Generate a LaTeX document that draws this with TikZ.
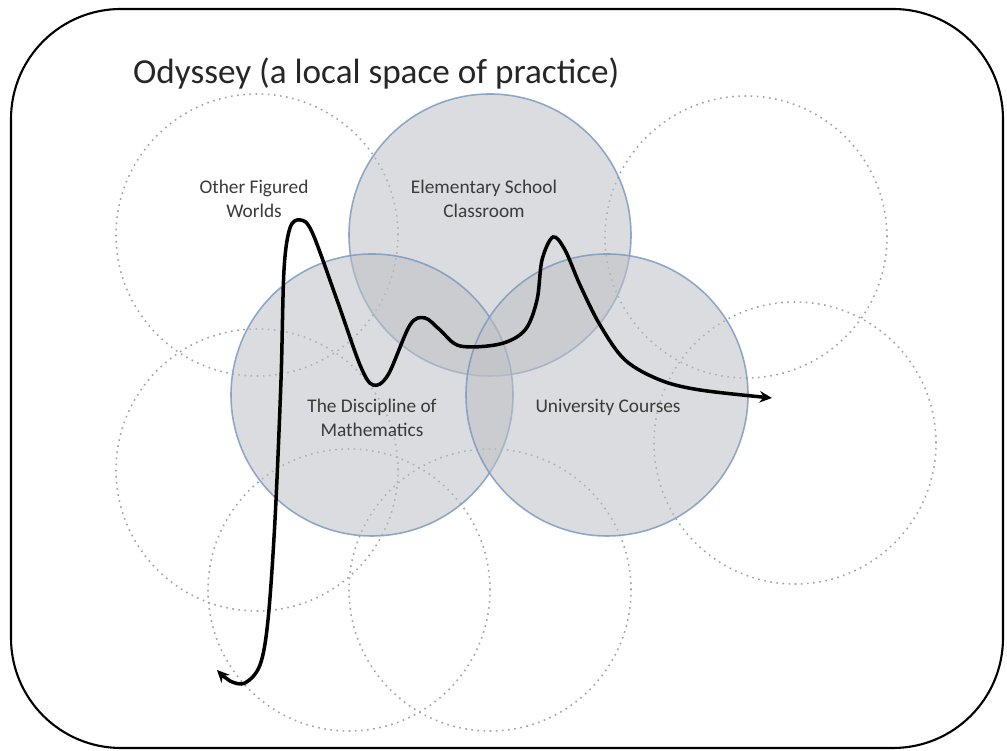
\documentclass[tikz,border=0pt]{standalone}
\usepackage{fontspec}
\setmainfont{Carlito}
\usetikzlibrary{arrows.meta}

\begin{document}
\begin{tikzpicture}[world/.style={circle,minimum size=5.64cm,inner sep=0pt},
  solidworld/.style={world,draw=edgeblue,draw opacity=0.8,line width=0.9pt,fill=worldgray,fill opacity=0.55},
  dottedworld/.style={world,draw=dotgray,line width=0.9pt,dash pattern=on 0.9pt off 2.6pt},
  worldlabel/.style={align=center,text=labelgray,font=\fontsize{11}{13.5}\selectfont}]
\definecolor{edgeblue}{HTML}{7896BE}
\definecolor{worldgray}{HTML}{BEBFC4}
\definecolor{dotgray}{HTML}{9EA2AA}
\definecolor{labelgray}{HTML}{3A3A3A}
\useasboundingbox (0,0) rectangle (20.14,15.02);
% the space of practice
\draw[line width=1.2pt,rounded corners=2.2cm] (0.22,0.06) rectangle (20.06,14.84);
\node[anchor=base west,text=black!85,font=\fontsize{20}{24}\selectfont] (title) at (2.54,13.34) {Odyssey (a local space of practice)};
% other worlds, dotted
  \foreach \nm/\cx/\cy in {figured/5.14/10.32,upright/14.92/10.28,lowright/15.9/6.16,midleft/5.14/5.62,lowleft/6.98/3.22,lowmid/9.8/3.22}
  {  \node [dottedworld] (\nm) at (\cx,\cy) {};}
% the three worlds of the odyssey
\node[solidworld] (school) at (9.8,10.32) {};
\node[solidworld] (maths) at (7.44,7.12) {};
\node[solidworld] (courses) at (12.14,7.12) {};
\node[worldlabel] (figuredtext) at (5.08,11.04) {Other Figured\\Worlds};
\node[worldlabel] (schooltext) at (9.68,11.04) {Elementary School\\Classroom};
\node[worldlabel] (mathstext) at (7.44,6.66) {The Discipline of\\Mathematics};
\node[worldlabel] (coursestext) at (12.16,6.88) {University Courses};
% the trajectory
\draw[line width=2pt,{Stealth[length=7pt,width=6.5pt]}-{Stealth[length=7pt,width=6.5pt]}]
  plot[smooth,tension=0.55] coordinates {(4.34,1.62) (4.60,1.40) (4.90,1.36) (5.20,1.72) (5.36,2.62) (5.50,4.62) (5.62,7.42) (5.68,9.62) (5.80,10.46) (6.00,10.62) (6.24,10.38) (6.74,9.02) (7.20,7.72) (7.46,7.32) (7.76,7.52) (8.20,8.52) (8.50,8.66) (8.80,8.42) (9.20,8.10) (10.00,8.14) (10.50,8.42) (10.74,9.02) (10.84,9.82) (11.06,10.28) (11.30,10.02) (11.60,9.32) (12.00,8.52) (12.50,7.82) (13.20,7.42) (14.00,7.22) (15.44,7.06)};
\end{tikzpicture}
\end{document}
